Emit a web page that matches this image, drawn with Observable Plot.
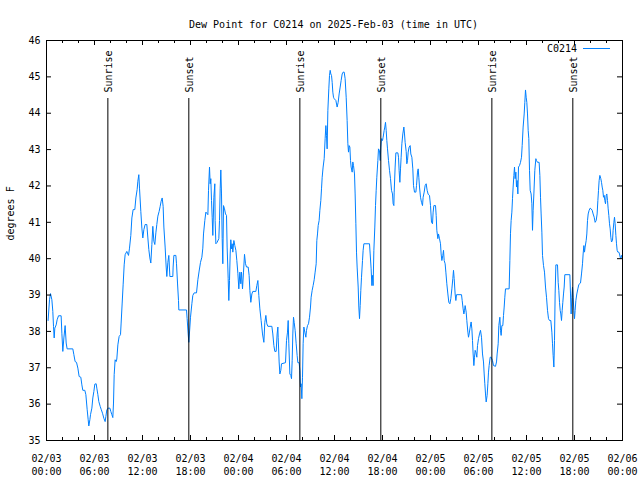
<!DOCTYPE html>
<html><head><meta charset="utf-8">
<script src="https://cdn.jsdelivr.net/npm/d3@7"></script>
<script src="https://cdn.jsdelivr.net/npm/@observablehq/plot@0.6"></script>
<style>html,body{margin:0;padding:0;background:#fff;} svg{display:block}</style>
</head><body><div id="chart"></div>
<script>
const title = "Dew Point for C0214 on 2025-Feb-03 (time in UTC)";
const seriesName = "C0214";
const yLabel = "degrees F";

// hours since 02/03 00:00 UTC
const hours = [
0.2,0.375,0.5,0.67,0.79,0.875,0.96,1.04,1.21,1.33,1.5,1.83,1.92,2.04,2.17,2.33,2.46,2.58,3.29,3.42,
3.58,3.75,3.92,4.08,4.29,4.42,4.54,4.79,4.92,5.08,5.21,5.29,5.42,5.5,5.67,5.79,5.92,6.04,6.21,6.29,
6.42,6.54,6.71,6.83,7.0,7.17,7.33,7.42,7.54,7.71,7.92,8.04,8.17,8.29,8.375,8.46,8.58,8.71,8.79,8.92,
9.08,9.25,9.33,9.46,9.58,9.71,9.83,10.04,10.25,10.375,10.54,10.67,10.83,11.04,11.17,11.33,11.42,11.54,11.625,11.79,
11.92,12.04,12.17,12.33,12.54,12.67,12.79,12.92,13.04,13.17,13.29,13.42,13.54,13.67,13.79,13.92,14.08,14.21,14.33,14.46,
14.58,14.67,14.83,14.96,15.04,15.17,15.29,15.42,15.79,15.83,15.92,16.17,16.25,16.375,16.5,16.54,17.5,17.58,17.71,17.79,
17.92,18.0,18.17,18.29,18.46,18.75,18.92,19.08,19.25,19.42,19.54,19.625,19.79,19.92,20.04,20.17,20.25,20.375,20.46,20.54,
20.625,20.71,20.79,20.92,21.04,21.08,21.17,21.33,21.54,21.625,21.71,21.79,21.875,21.96,22.04,22.125,22.25,22.375,22.5,22.58,
22.71,22.79,22.875,22.96,23.04,23.125,23.21,23.29,23.42,23.54,23.67,23.79,23.92,24.04,24.17,24.29,24.375,24.5,24.625,24.75,
24.875,25.0,25.21,25.33,25.42,25.54,25.67,25.79,26.17,26.29,26.42,26.54,26.67,26.83,27.0,27.17,27.29,27.42,27.54,27.67,
28.17,28.29,28.42,28.54,28.71,28.83,28.92,28.96,29.08,29.17,29.29,29.375,29.875,30.0,30.125,30.21,30.29,30.42,30.54,30.625,
30.71,30.79,30.875,30.96,31.08,31.21,31.33,31.42,31.58,31.67,31.75,31.83,31.92,32.0,32.08,32.17,32.29,32.42,32.5,32.625,
32.75,32.875,33.0,33.08,33.21,33.33,33.46,33.58,33.71,33.79,33.875,33.96,34.08,34.17,34.29,34.375,34.46,34.58,34.71,34.83,
34.92,35.0,35.08,35.17,35.29,35.375,35.46,35.54,35.625,35.71,35.79,35.875,35.96,36.17,36.33,36.46,36.58,36.71,36.83,36.96,
37.08,37.21,37.33,37.46,37.58,37.67,37.75,37.83,37.92,38.0,38.08,38.21,38.29,38.375,38.5,38.58,38.67,38.75,38.83,38.96,
39.04,39.125,39.21,39.29,39.375,39.5,39.58,39.67,40.375,40.46,40.58,40.67,40.75,40.83,40.92,41.04,41.125,41.21,41.29,41.42,
41.5,41.625,41.71,41.79,41.875,42.0,42.08,42.21,42.29,42.375,42.46,42.54,42.625,42.75,42.875,43.0,43.125,43.25,43.33,43.42,
43.46,43.58,43.67,43.92,44.0,44.08,44.17,44.25,44.33,44.42,44.54,44.67,44.75,44.83,44.96,45.04,45.125,45.21,45.33,45.46,
45.54,45.67,45.79,45.875,46.0,46.17,46.25,46.375,46.46,46.54,46.625,46.75,46.875,47.0,47.08,47.21,47.33,47.46,47.58,47.71,
47.875,48.0,48.125,48.25,48.33,48.42,48.625,48.71,48.79,48.92,49.0,49.125,49.25,49.33,49.42,49.54,49.625,49.71,49.83,49.92,
50.04,50.17,50.29,50.42,50.54,50.67,50.79,50.875,50.96,51.08,51.17,51.25,51.875,51.96,52.08,52.17,52.25,52.33,52.46,52.54,
52.67,52.75,52.83,52.96,53.08,53.17,53.25,53.33,53.42,53.5,53.58,53.67,53.79,53.875,54.0,54.125,54.25,54.375,54.5,54.625,
54.71,54.79,54.875,54.96,55.08,55.17,55.25,55.33,55.46,55.58,55.75,55.875,56.125,56.25,56.33,56.46,56.54,56.67,56.75,56.83,
56.92,57.04,57.125,57.21,57.29,57.375,57.83,57.92,58.0,58.08,58.17,58.25,58.33,58.42,58.5,58.58,58.67,58.75,58.83,58.92,
59.0,59.125,59.25,59.375,59.46,59.58,59.71,59.79,59.875,59.96,60.04,60.125,60.21,60.29,60.375,60.46,60.58,60.67,60.75,60.83,
60.92,61.04,61.17,61.25,61.375,61.58,61.67,61.75,61.83,61.92,62.0,62.125,62.25,62.375,62.5,62.625,62.75,62.875,63.04,63.17,
63.25,63.33,63.42,63.5,63.58,63.67,63.875,63.96,64.04,64.125,64.21,64.29,64.375,64.46,64.54,64.625,64.71,64.79,65.42,65.5,
65.58,65.67,65.75,65.83,65.92,66.0,66.08,66.17,66.29,66.42,66.54,66.75,66.875,67.0,67.08,67.17,67.25,67.33,67.46,67.54,
67.625,67.71,67.83,67.96,68.08,68.21,68.33,68.46,68.58,68.71,68.83,68.92,69.0,69.08,69.17,69.29,69.375,69.46,69.54,69.625,
69.71,69.79,69.875,69.96,70.04,70.125,70.21,70.29,70.375,70.46,70.54,70.625,70.75,70.83,70.92,71.0,71.08,71.17,71.25,71.33,
71.42,71.54,71.625,71.71,71.79,71.875,72.0
];
// dew point, degrees F
const dewF = [
38.3,38.87,39.04,38.87,38.55,38.14,37.82,38.09,38.18,38.32,38.43,38.43,37.95,37.45,37.82,38.16,37.68,37.52,37.52,37.36,
37.17,37.15,36.99,36.76,36.74,36.53,36.38,36.38,36.26,35.86,35.57,35.4,35.57,35.71,35.89,36.17,36.35,36.55,36.56,36.44,
36.26,36.07,35.94,35.86,35.75,35.61,35.52,35.66,35.84,35.89,35.89,35.8,35.71,35.63,36.03,36.81,37.22,37.17,37.24,37.63,
37.86,37.91,38.23,38.78,39.28,39.83,40.11,40.2,40.09,40.29,40.64,41.12,41.35,41.35,41.67,41.9,42.13,42.31,41.94,41.3,
40.84,40.57,40.8,40.94,40.94,40.57,40.25,40.02,39.88,40.39,40.89,40.48,40.39,40.71,40.94,41.17,41.3,41.44,41.58,41.67,
41.44,40.87,40.32,39.77,39.51,39.9,40.09,39.51,39.51,39.77,40.09,40.09,39.86,39.33,38.85,38.59,38.59,38.35,37.93,37.7,
38.12,38.39,38.76,38.99,39.06,39.06,39.42,39.66,39.9,40.04,40.29,40.68,41.05,41.28,41.25,41.21,41.88,42.52,42.06,42.2,
41.6,41.14,40.64,41.69,42.06,41.05,40.41,40.45,40.55,41.05,41.92,42.44,41.78,40.55,39.86,41.46,41.37,41.23,41.19,40.32,
39.45,38.85,39.4,40.13,40.52,40.27,40.41,40.18,40.5,40.36,40.23,39.95,39.6,39.17,39.63,39.31,39.63,39.17,39.63,40.12,
39.86,39.77,39.77,39.54,39.13,38.8,39.03,39.1,39.1,39.26,39.4,38.99,38.62,38.3,37.93,37.7,38.25,38.44,38.21,38.14,
38.14,37.93,37.61,37.45,37.45,37.93,38.12,37.84,37.16,36.83,36.93,37.11,37.14,37.75,37.98,38.3,37.66,36.83,36.79,36.7,
37.2,37.93,38.39,38.25,38.03,37.66,37.34,37.14,37.14,36.93,36.47,36.56,36.15,36.74,37.66,38.12,37.98,37.84,38.03,38.16,
38.21,38.39,38.67,38.94,39.13,39.26,39.42,39.63,39.86,40.5,40.68,40.91,41.05,41.33,41.6,41.92,42.24,42.52,42.75,43.3,
43.66,43.39,43.02,44.08,44.67,45.04,45.18,45.08,45.04,44.85,44.58,44.44,44.4,44.35,44.17,44.3,44.53,44.72,44.9,45.08,
45.13,45.13,44.95,44.44,43.8,43.16,42.93,43.11,43.07,42.7,42.52,42.38,42.66,42.56,42.33,41.78,40.96,40.18,39.77,39.22,
38.67,38.35,38.71,39.13,39.49,39.95,40.23,40.41,40.41,40.13,39.72,39.26,39.54,39.26,40.23,40.87,41.46,41.88,42.24,42.7,
43.02,42.97,42.7,43.07,43.3,43.25,43.34,43.53,43.62,43.75,43.53,43.25,43.02,42.7,42.43,42.2,41.88,41.78,41.51,41.46,
41.83,42.52,42.91,42.91,42.79,42.42,42.1,42.47,42.79,43.16,43.43,43.62,43.43,43.2,42.95,42.61,42.7,42.93,43.07,43.11,
42.88,42.79,42.47,42.01,41.83,41.83,42.01,42.38,42.47,42.24,41.97,41.69,41.55,41.46,41.69,41.83,42.01,42.06,41.88,41.77,
41.74,41.46,41.0,40.96,41.28,41.46,41.46,41.19,40.78,40.55,40.68,40.55,40.41,40.13,39.95,40.09,40.23,39.95,39.86,39.63,
39.31,39.03,38.8,38.76,38.9,39.17,39.45,39.68,39.45,39.03,38.85,39.01,39.01,38.85,38.62,38.48,38.57,38.71,38.53,38.3,
37.98,37.84,37.93,38.12,38.26,38.07,37.75,37.38,37.06,37.29,37.48,37.43,37.29,37.61,37.8,37.93,38.03,37.84,37.38,37.16,
36.83,36.56,36.28,36.06,36.24,36.56,36.88,37.06,37.29,37.29,37.2,37.06,37.04,37.16,37.38,37.66,38.16,38.39,38.03,37.89,
38.16,38.16,38.44,38.67,38.94,39.17,39.17,39.95,40.7,41.05,41.28,41.65,41.97,42.29,42.52,42.2,42.38,41.97,42.15,41.78,
42.52,42.56,42.65,42.79,43.11,43.62,43.98,44.3,44.64,44.44,44.3,43.98,43.53,43.3,42.43,41.88,41.78,41.51,40.78,41.33,
41.78,42.43,42.75,42.7,42.65,42.65,42.29,41.69,41.23,40.73,40.09,39.81,39.63,39.22,38.94,38.58,38.35,38.3,38.3,37.98,
37.66,37.34,37.02,37.75,39.03,39.83,39.83,39.35,39.13,38.8,38.58,38.48,38.3,38.58,38.8,39.03,39.22,39.56,39.56,39.03,
38.48,38.94,39.22,38.94,38.58,38.35,38.58,38.85,39.03,39.17,39.29,39.33,39.58,39.86,40.13,40.36,40.18,40.32,40.5,40.68,
41.05,41.23,41.33,41.39,41.37,41.33,41.23,41.14,41.0,41.05,41.23,41.6,41.88,42.15,42.29,42.2,42.1,41.97,41.88,41.69,
41.74,41.6,41.51,41.74,41.78,41.6,41.37,41.19,40.96,40.82,40.59,40.46,40.5,40.78,41.0,41.14,40.96,40.64,40.41,40.23,
40.18,40.18,40.13,40.04,40.0,40.09,40.0
];

const tickHours = [0,6,12,18,24,30,36,42,48,54,60,66,72];
const tickDates = ["02/03","02/03","02/03","02/03","02/04","02/04","02/04","02/04","02/05","02/05","02/05","02/05","02/06"];
const tickTimes = ["00:00","06:00","12:00","18:00","00:00","06:00","12:00","18:00","00:00","06:00","12:00","18:00","00:00"];
const minorHours = [2,4,8,10,14,16,20,22,26,28,32,34,38,40,44,46,50,52,56,58,62,64,68,70];
const yTicks = [35,36,37,38,39,40,41,42,43,44,45,46];
const sunHours = [7.67,17.79,31.67,41.79,55.67,65.79];
const sunLabels = ["Sunrise","Sunset","Sunrise","Sunset","Sunrise","Sunset"];

const data = hours.map((h, i) => ({h, v: dewF[i]}));
const sun = sunHours.map((h, i) => ({h, label: sunLabels[i]}));

const W = 640, H = 480, mL = 46, mR = 18, mT = 40, mB = 40;
const fH = H - mT - mB, fW = W - mL - mR;
const lineColor = "rgb(0,128,255)";
const font = "DejaVu Sans Mono";

const legend = (index, scales, values, dims) => {
  const g = d3.create("svg:g");
  const x1 = dims.width - dims.marginRight;
  const y = dims.marginTop + 8;
  g.append("text").attr("x", x1 - 45).attr("y", y).attr("dy", "0.35em")
    .attr("text-anchor", "end").attr("font-family", font).attr("font-size", 10)
    .attr("fill", "black").text(seriesName);
  g.append("line").attr("x1", x1 - 39).attr("x2", x1 - 12).attr("y1", y + 0.5).attr("y2", y + 0.5)
    .attr("stroke", lineColor).attr("stroke-width", 1);
  return g.node();
};

const chart = Plot.plot({
  width: W, height: H,
  marginLeft: mL, marginRight: mR, marginTop: mT, marginBottom: mB,
  style: {fontFamily: font, fontSize: "10px", background: "white", color: "black", overflow: "visible"},
  x: {domain: [0, 72]},
  y: {domain: [35, 46]},
  marks: [
    Plot.line(data, {x: "h", y: "v", stroke: lineColor, strokeWidth: 1}),
    Plot.ruleX(sun, {x: "h", insetTop: 58, stroke: "black", strokeWidth: 1}),
    Plot.text(sun, {x: "h", text: "label", frameAnchor: "top", dy: 52, dx: 1, rotate: -90, textAnchor: "start", lineAnchor: "middle", fontSize: 10}),
    Plot.ruleX(tickHours, {x: d => d, insetTop: fH - 5}),
    Plot.ruleX(tickHours, {x: d => d, insetBottom: fH - 5}),
    Plot.ruleX(minorHours, {x: d => d, insetTop: fH - 3}),
    Plot.ruleX(minorHours, {x: d => d, insetBottom: fH - 3}),
    Plot.ruleY(yTicks, {y: d => d, insetRight: fW - 5}),
    Plot.ruleY(yTicks, {y: d => d, insetLeft: fW - 5}),
    Plot.axisX(tickHours, {tickSize: 0, tickPadding: 12, lineHeight: 1.3, label: null,
      tickFormat: d => { const i = tickHours.indexOf(d); return tickDates[i] + "\n" + tickTimes[i]; }}),
    Plot.axisY(yTicks, {tickSize: 0, tickPadding: 6, label: null}),
    Plot.frame({stroke: "black"}),
    Plot.text([title], {frameAnchor: "top", dy: -20, dx: -1, fontSize: 10}),
    Plot.text([yLabel], {frameAnchor: "left", dx: -36, rotate: -90, fontSize: 10}),
    legend
  ]
});
document.getElementById("chart").appendChild(chart);
</script>
</body></html>
